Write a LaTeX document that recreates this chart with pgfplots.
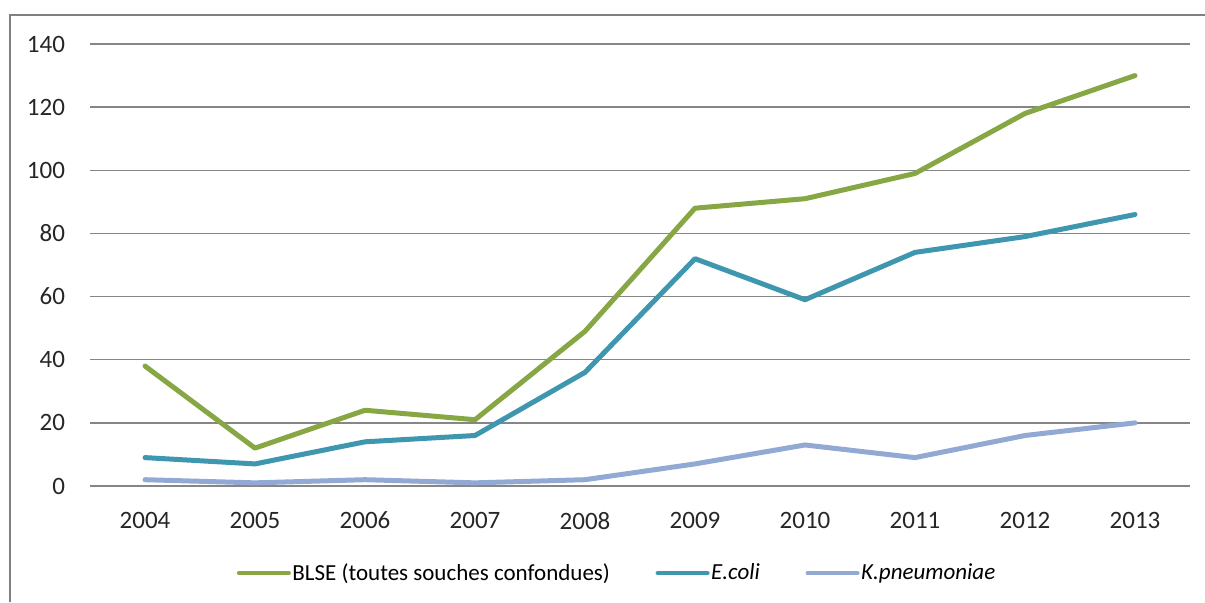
\documentclass[border=0pt]{standalone}
\usepackage{fontspec}
\setmainfont{Carlito}
\usepackage{pgfplots}
\pgfplotsset{compat=1.18}

\definecolor{blsegreen}{RGB}{134,167,68}
\definecolor{colitea}{RGB}{62,150,175}
\definecolor{kpblue}{RGB}{146,169,212}
\definecolor{gridgray}{RGB}{134,134,134}
\definecolor{framegray}{RGB}{128,128,128}

\begin{document}
\begin{tikzpicture}[x=1pt,y=1pt]
\useasboundingbox (0,0) rectangle (602.5,-301);
% chart frame (only top and left edges fall inside the picture)
\draw[framegray, line width=1pt] (5,-301) -- (5,-7.5) -- (602.5,-7.5);

\begin{axis}[
    at={(45pt,-243pt)}, anchor=south west,
    scale only axis,
    width=550pt, height=221pt,
    xmin=-0.5, xmax=9.5,
    ymin=0, ymax=140,
    xtick={0,...,9},
    xticklabels={2004,2005,2006,2007,2008,2009,2010,2011,2012,2013},
    ytick={0,20,...,140},
    ymajorgrids,
    grid style={gridgray, line width=0.75pt},
    axis line style={draw=none},
    tick style={draw=none},
    /pgf/number format/assume math mode=true,
    ticklabel style={font=\fontsize{12.5}{14}\selectfont, text=black!85},
    yticklabel style={xshift=-9pt},
    xticklabel style={yshift=-9.5pt},
    legend columns=3,
    legend style={
        draw=none, fill=none,
        at={(0.479,-0.197)}, anchor=center,
        font=\fontsize{11.5}{13}\selectfont,
        /tikz/every even column/.append style={column sep=22pt},
        nodes={inner sep=0.8pt},
    },
    legend image code/.code={\draw[#1, line width=2pt] (0pt,0pt) -- (25pt,0pt);},
    every axis plot/.append style={line width=2.5pt, line join=round, line cap=round},
]
\addplot[blsegreen] coordinates {
(0,38) (1,12) (2,24) (3,21) (4,49) (5,88) (6,91) (7,99) (8,118) (9,130)
};
\addlegendentry{BLSE (toutes souches confondues)}

\addplot[colitea] coordinates {
(0,9) (1,7) (2,14) (3,16) (4,36) (5,72) (6,59) (7,74) (8,79) (9,86)
};
\addlegendentry{\textit{E.coli}}

\addplot[kpblue] coordinates {
(0,2) (1,1) (2,2) (3,1) (4,2) (5,7) (6,13) (7,9) (8,16) (9,20)
};
\addlegendentry{\textit{K.pneumoniae}}
\end{axis}
\end{tikzpicture}
\end{document}
